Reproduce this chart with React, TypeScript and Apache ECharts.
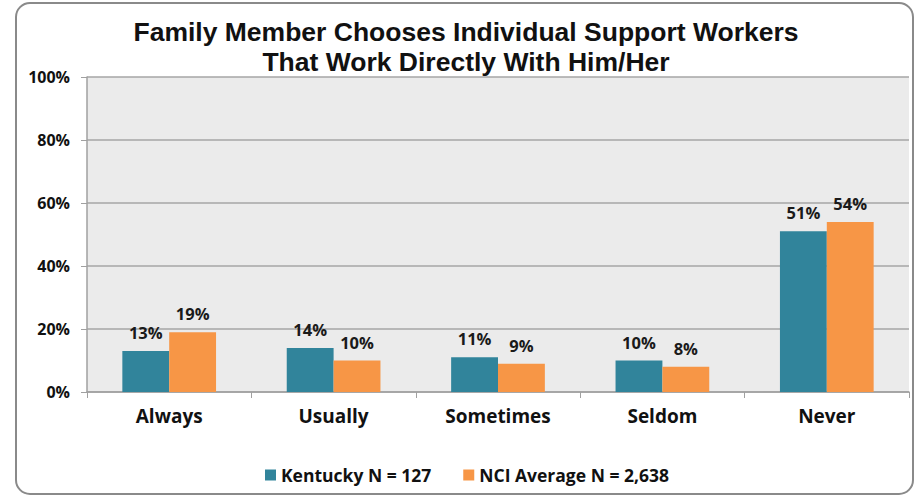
import React, { useEffect, useRef } from "react";
import * as echarts from "echarts";

const categories = ["Always", "Usually", "Sometimes", "Seldom", "Never"];
const kentucky = [13, 14, 11, 10, 51];
const nciAverage = [19, 10, 9, 8, 54];
const seriesNames = ["Kentucky N = 127", "NCI Average N = 2,638"];
const titleLines = ["Family Member Chooses Individual Support Workers", "That Work Directly With Him/Her"];

const FONT = "'Open Sans', 'Liberation Sans', sans-serif";
const TITLE_FONT = "'Liberation Sans', Arial, sans-serif";

export default function App() {
  const ref = useRef<HTMLDivElement>(null);
  useEffect(() => {
    if (!ref.current) return;
    const chart = echarts.init(ref.current, null, { renderer: "svg" });
    const label = {
      show: true,
      position: "top",
      distance: 10,
      formatter: (p: any) => p.value + "%",
      color: "#1a1a1a",
      fontFamily: FONT,
      fontWeight: "bold",
      fontSize: 16.5,
    };
    chart.setOption({
      animation: false,
      backgroundColor: "#ffffff",
      graphic: [
        {
          type: "rect",
          shape: { x: 16, y: 3, width: 897, height: 491, r: 14 },
          style: { fill: "none", stroke: "#8a8a8a", lineWidth: 2 },
          z: -10,
        },
        ...titleLines.map((t, i) => ({
          type: "text",
          x: 466,
          y: 32 + i * 30,
          style: {
            text: t,
            textAlign: "center",
            textVerticalAlign: "middle",
            fontFamily: TITLE_FONT,
            fontWeight: "bold",
            fontSize: 26.5,
            fill: "#111",
          },
        })),
      ],
      legend: {
        bottom: 8,
        left: 260,
        itemWidth: 11,
        itemHeight: 11,
        itemGap: 32,
        icon: "rect",
        textStyle: { fontFamily: FONT, fontWeight: "bold", fontSize: 17.5, color: "#111" },
        data: seriesNames,
      },
      grid: {
        left: 87,
        right: 12,
        top: 77,
        bottom: 105,
        show: true,
        backgroundColor: "#ebebeb",
        borderWidth: 0,
        containLabel: false,
      },
      xAxis: {
        type: "category",
        data: categories,
        axisLine: { show: true, lineStyle: { color: "#a0a0a0", width: 1.5 } },
        axisTick: { show: true, length: 6, lineStyle: { color: "#a0a0a0" } },
        axisLabel: {
          fontFamily: FONT,
          fontWeight: "bold",
          fontSize: 19,
          color: "#111",
          margin: 14,
        },
      },
      yAxis: {
        type: "value",
        min: 0,
        max: 100,
        interval: 20,
        axisLine: { show: true, lineStyle: { color: "#a0a0a0", width: 1.5 } },
        axisTick: { show: true, length: 6, inside: false, lineStyle: { color: "#a0a0a0" } },
        splitLine: { show: true, lineStyle: { color: "#a6a6a6", width: 1.5 } },
        axisLabel: {
          formatter: "{value}%",
          fontFamily: FONT,
          fontWeight: "bold",
          fontSize: 16,
          color: "#111",
          margin: 17,
        },
      },
      series: [
        {
          name: seriesNames[0],
          type: "bar",
          data: kentucky,
          barGap: "0%",
          barCategoryGap: "43%",
          itemStyle: { color: "#31849b" },
          label,
        },
        {
          name: seriesNames[1],
          type: "bar",
          data: nciAverage,
          itemStyle: { color: "#f79646" },
          label,
        },
      ],
    });
    return () => chart.dispose();
  }, []);
  return <div ref={ref} style={{ width: 921, height: 497, position: "absolute", left: 0, top: 0 }} />;
}
